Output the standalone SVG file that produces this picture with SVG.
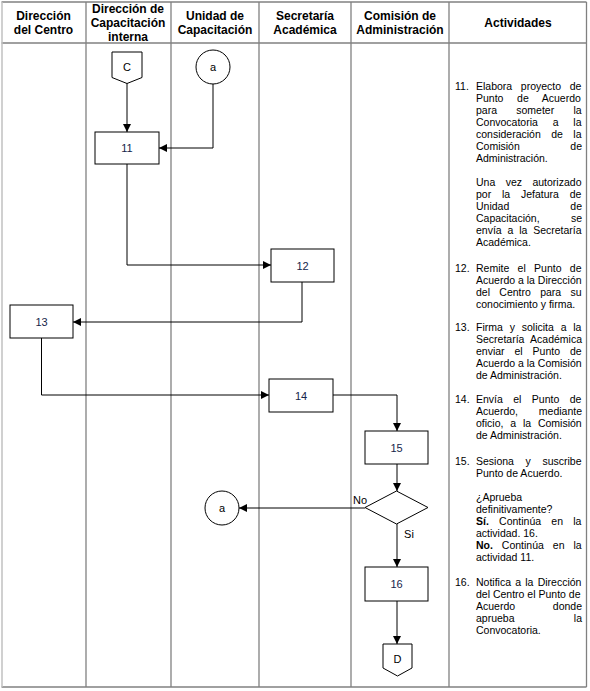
<svg xmlns="http://www.w3.org/2000/svg" width="590" height="691" viewBox="0 0 590 691">
<defs>
<style>
.grid{stroke:#808080;stroke-width:1.3;fill:none}
.hd{font-family:"Liberation Sans",Arial,sans-serif;font-size:12px;font-weight:bold;fill:#000;text-anchor:middle}
.tx{font-family:"Liberation Sans",Arial,sans-serif;font-size:10.5px;fill:#000}
.end{text-anchor:end}
.b{font-weight:bold}
.box{fill:#fff;stroke:#000;stroke-width:1}
.lbl{font-family:"Liberation Sans",Arial,sans-serif;font-size:11px;fill:#15254a;text-anchor:middle}
.cl{font-family:"Liberation Sans",Arial,sans-serif;font-size:11px;fill:#000;text-anchor:middle}
.ed{fill:none;stroke:#000;stroke-width:1}
</style>
<marker id="ah" viewBox="0 0 10 10" refX="10" refY="5" markerWidth="8" markerHeight="8" markerUnits="userSpaceOnUse" orient="auto">
<path d="M0,0 L10,5 L0,10 z" fill="#000"/>
</marker>
</defs>
<rect width="590" height="691" fill="#fff"/>
<g id="grid">
<line class="grid" x1="1.5" y1="2" x2="586.5" y2="2"/>
<line class="grid" x1="1.5" y1="43" x2="586.5" y2="43"/>
<line class="grid" x1="1.5" y1="687" x2="586.5" y2="687"/>
<line x1="2" y1="2" x2="2" y2="687" stroke="#c0c0c0" stroke-width="1.5"/>
<line class="grid" x1="86" y1="2" x2="86" y2="687"/>
<line class="grid" x1="171" y1="2" x2="171" y2="687"/>
<line class="grid" x1="259" y1="2" x2="259" y2="687"/>
<line class="grid" x1="351" y1="2" x2="351" y2="687"/>
<line class="grid" x1="449" y1="2" x2="449" y2="687"/>
<line class="grid" x1="586.5" y1="2" x2="586.5" y2="687"/>
</g>
<g id="headers">
<text class="hd" x="43.5" y="20">Dirección</text>
<text class="hd" x="43.5" y="34">del Centro</text>
<text class="hd" x="128" y="13">Dirección de</text>
<text class="hd" x="128" y="27">Capacitación</text>
<text class="hd" x="128" y="40.5">interna</text>
<text class="hd" x="215" y="20">Unidad de</text>
<text class="hd" x="215" y="34">Capacitación</text>
<text class="hd" x="305" y="20">Secretaría</text>
<text class="hd" x="305" y="34">Académica</text>
<text class="hd" x="400" y="20">Comisión de</text>
<text class="hd" x="400" y="34">Administración</text>
<text class="hd" x="518" y="27">Actividades</text>
</g>
<g id="connectors">
<path class="ed" d="M127,83 V132" marker-end="url(#ah)"/>
<path class="ed" d="M213,84 V148 H159" marker-end="url(#ah)"/>
<path class="ed" d="M127,164 V265 H271" marker-end="url(#ah)"/>
<path class="ed" d="M302,282 V322 H73" marker-end="url(#ah)"/>
<path class="ed" d="M41.5,338 V395 H269" marker-end="url(#ah)"/>
<path class="ed" d="M333,395 H397 V431" marker-end="url(#ah)"/>
<path class="ed" d="M397,464 V491" marker-end="url(#ah)"/>
<path class="ed" d="M365,508 H239" marker-end="url(#ah)"/>
<path class="ed" d="M397,524 V567" marker-end="url(#ah)"/>
<path class="ed" d="M397,601 V644" marker-end="url(#ah)"/>
<text class="cl" x="360" y="504">No</text>
<text class="cl" x="409" y="538">Si</text>
</g>
<g id="nodeC">
<path class="box" d="M112,52 H142 V77.5 L127,83.5 L112,77.5 Z" stroke="#777"/>
<text class="cl" x="127" y="71">C</text>
</g>
<g id="nodeA1">
<circle class="box" cx="213" cy="67" r="17"/>
<text class="cl" x="213" y="71">a</text>
</g>
<g id="node11">
<rect class="box" x="95" y="132" width="64" height="32"/>
<text class="lbl" x="127" y="152">11</text>
</g>
<g id="node12">
<rect class="box" x="271" y="249" width="63" height="33"/>
<text class="lbl" x="302.5" y="269.5">12</text>
</g>
<g id="node13">
<rect class="box" x="10" y="305" width="63" height="33"/>
<text class="lbl" x="41.5" y="325.5">13</text>
</g>
<g id="node14">
<rect class="box" x="269" y="379" width="64" height="33"/>
<text class="lbl" x="301" y="399.5">14</text>
</g>
<g id="node15">
<rect class="box" x="365" y="431" width="63" height="33"/>
<text class="lbl" x="396.5" y="451.5">15</text>
</g>
<g id="decision">
<path class="box" d="M396.5,491 L428,507.5 L396.5,524 L365,507.5 Z"/>
</g>
<g id="nodeA2">
<circle class="box" cx="222" cy="508" r="17"/>
<text class="cl" x="222" y="512">a</text>
</g>
<g id="node16">
<rect class="box" x="365" y="567" width="63" height="34"/>
<text class="lbl" x="396.5" y="588">16</text>
</g>
<g id="nodeD">
<path class="box" d="M383,644 H412 V668 L397.5,676 L383,668 Z" stroke="#777"/>
<text class="cl" x="397.5" y="663">D</text>
</g>
<g id="actividades">
<text class="tx" x="455" y="90">11.</text>
<text class="tx" x="476" y="90" style="word-spacing:5.7px">Elabora proyecto de</text>
<text class="tx" x="476" y="102" style="word-spacing:10.7px">Punto de Acuerdo</text>
<text class="tx" x="476" y="114" style="word-spacing:16.3px">para someter la</text>
<text class="tx" x="476" y="126" style="word-spacing:11.9px">Convocatoria a la</text>
<text class="tx" x="476" y="138" style="word-spacing:7.5px">consideración de la</text>
<text class="tx" x="476" y="150">Comisión</text><text class="tx end" x="582" y="150">de</text>
<text class="tx" x="476" y="162">Administración.</text>
<text class="tx" x="476" y="186" style="word-spacing:7.5px">Una vez autorizado</text>
<text class="tx" x="476" y="198" style="word-spacing:7.9px">por la Jefatura de</text>
<text class="tx" x="476" y="210">Unidad</text><text class="tx end" x="582" y="210">de</text>
<text class="tx" x="476" y="222">Capacitación,</text><text class="tx end" x="582" y="222">se</text>
<text class="tx" x="476" y="234" style="word-spacing:2.9px">envía a la Secretaría</text>
<text class="tx" x="476" y="246">Académica.</text>

<text class="tx" x="455" y="272">12.</text>
<text class="tx" x="476" y="272" style="word-spacing:5.4px">Remite el Punto de</text>
<text class="tx" x="476" y="284">Acuerdo a la Dirección</text>
<text class="tx" x="476" y="296" style="word-spacing:6.4px">del Centro para su</text>
<text class="tx" x="476" y="308">conocimiento y firma.</text>

<text class="tx" x="455" y="331">13.</text>
<text class="tx" x="476" y="331" style="word-spacing:3.9px">Firma y solicita a la</text>
<text class="tx" x="476" y="343">Secretaría</text><text class="tx end" x="582" y="343">Académica</text>
<text class="tx" x="476" y="355" style="word-spacing:7px">enviar el Punto de</text>
<text class="tx" x="476" y="367">Acuerdo a la Comisión</text>
<text class="tx" x="476" y="379">de Administración.</text>

<text class="tx" x="455" y="403">14.</text>
<text class="tx" x="476" y="403" style="word-spacing:7.5px">Envía el Punto de</text>
<text class="tx" x="476" y="415">Acuerdo,</text><text class="tx end" x="582" y="415">mediante</text>
<text class="tx" x="476" y="427" style="word-spacing:3.9px">oficio, a la Comisión</text>
<text class="tx" x="476" y="439">de Administración.</text>

<text class="tx" x="455" y="465">15.</text>
<text class="tx" x="476" y="465" style="word-spacing:8.7px">Sesiona y suscribe</text>
<text class="tx" x="476" y="477">Punto de Acuerdo.</text>
<text class="tx" x="476" y="501">¿Aprueba</text>
<text class="tx" x="476" y="513">definitivamente?</text>
<text class="tx" x="476" y="525" style="word-spacing:7.3px"><tspan class="b">Sí.</tspan> Continúa en la</text>
<text class="tx" x="476" y="537">actividad. 16.</text>
<text class="tx" x="476" y="549" style="word-spacing:6px"><tspan class="b">No.</tspan> Continúa en la</text>
<text class="tx" x="476" y="561">actividad 11.</text>

<text class="tx" x="455" y="586">16.</text>
<text class="tx" x="476" y="586" style="word-spacing:1.3px">Notifica a la Dirección</text>
<text class="tx" x="476" y="598">del Centro el Punto de</text>
<text class="tx" x="476" y="610">Acuerdo</text><text class="tx end" x="582" y="610">donde</text>
<text class="tx" x="476" y="622">aprueba</text><text class="tx end" x="582" y="622">la</text>
<text class="tx" x="476" y="634">Convocatoria.</text>
</g>
</svg>
